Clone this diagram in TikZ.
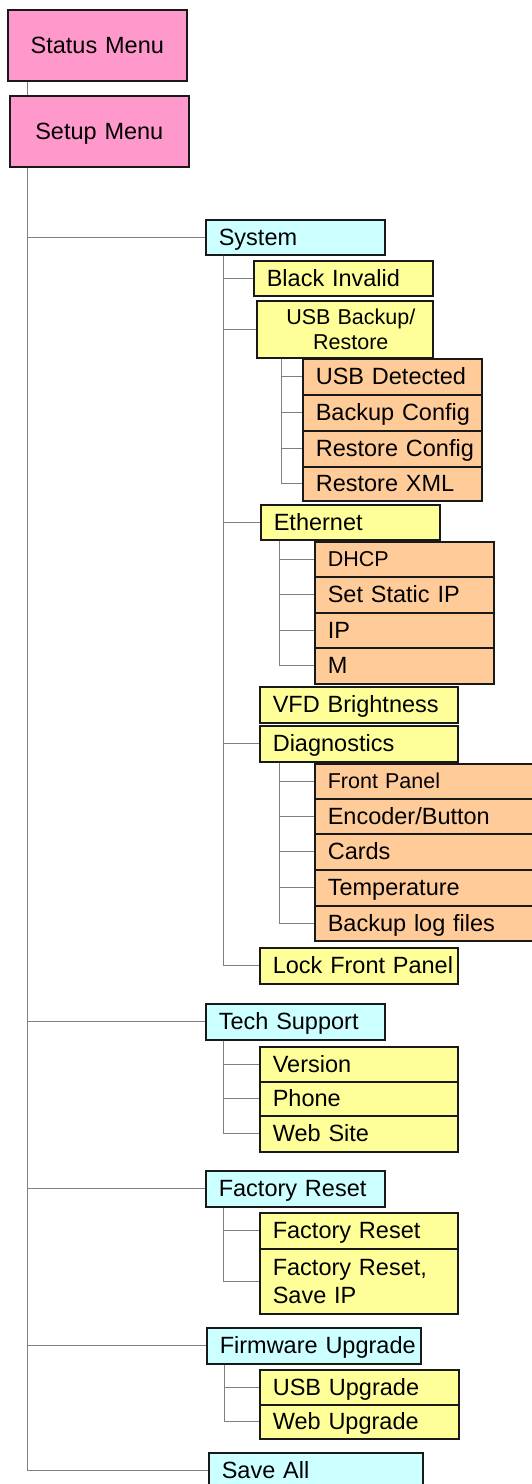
\documentclass[tikz,border=0pt]{standalone}
\usepackage{fontspec}
\setmainfont{Liberation Sans}
\definecolor{menupink}{RGB}{255,153,204}
\definecolor{groupcyan}{RGB}{204,255,255}
\definecolor{itemyellow}{RGB}{255,255,153}
\definecolor{leaforange}{RGB}{255,204,153}

\begin{document}
\begin{tikzpicture}[x=1pt,y=-1pt,
    box/.style={draw=black!90, line width=1.6pt, anchor=north west,
      inner xsep=4pt, inner ysep=0pt, align=left,
      text height=16pt, text depth=0pt,
      font=\fontsize{23.5}{28}\selectfont},
    padleft/.style={execute at begin node={\leftskip=#1\relax}},
    padcenter/.style={execute at begin node={\leftskip=#1 plus 1fil\rightskip=0pt plus 1fil\parfillskip=0pt\relax}},
    menubox/.style={box, fill=menupink, padcenter=0pt},
    groupbox/.style={box, fill=groupcyan, padleft=9pt},
    itembox/.style={box, fill=itemyellow, padleft=9pt},
    leafbox/.style={box, fill=leaforange, padleft=9pt},
    smalltext/.style={font=\fontsize{21.5}{25}\selectfont, text height=15pt},
    link/.style={draw=black!50, line width=1pt}]
  % page = 532 x 1484 px, 1px = 1pt, y grows downwards
  \useasboundingbox (0,0) rectangle (532,1484);

  % top level menus
  \node[menubox, text width=171pt, minimum height=71pt] (status) at (7,9) {Status Menu};
  \node[menubox, text width=171pt, minimum height=71pt] (setup) at (9,95) {Setup Menu};

  % System
  \node[groupbox, text width=171pt, minimum height=35pt] (sys) at (205,219) {System};
  \node[itembox, text width=171pt, minimum height=35pt] (blk) at (253,260) {Black Invalid};
  \node[itembox, smalltext, padcenter=12pt, text width=168pt,
    text depth=25pt, minimum height=57pt] (usb) at (256,300) {USB Backup/\\Restore};
  \node[leafbox, text width=171pt, minimum height=36pt] (usbdet) at (302,358) {USB Detected};
  \node[leafbox, text width=171pt, minimum height=36pt] (bkcfg) at (302,394) {Backup Config};
  \node[leafbox, text width=171pt, minimum height=36pt] (rscfg) at (302,430) {Restore Config};
  \node[leafbox, text width=171pt, minimum height=34pt] (rsxml) at (302,466) {Restore XML};
  \node[itembox, text width=171pt, minimum height=35pt] (eth) at (260,504) {Ethernet};
  \node[leafbox, smalltext, text width=171pt, minimum height=35pt] (dhcp) at (314,541) {DHCP};
  \node[leafbox, text width=171pt, minimum height=36pt] (sip) at (314,576) {Set Static IP};
  \node[leafbox, text width=171pt, minimum height=35pt] (ip) at (314,612) {IP};
  \node[leafbox, text width=171pt, minimum height=36pt] (m) at (314,647) {M};
  \node[itembox, text width=190pt, minimum height=36pt] (vfd) at (259,686) {VFD Brightness};
  \node[itembox, text width=190pt, minimum height=36pt] (diag) at (259,725) {Diagnostics};
  \node[leafbox, smalltext, text width=218pt, minimum height=35pt] (fp) at (314,763) {Front Panel};
  \node[leafbox, text width=218pt, minimum height=35pt] (enc) at (314,798) {Encoder/Button};
  \node[leafbox, text width=218pt, minimum height=36pt] (cards) at (314,833) {Cards};
  \node[leafbox, text width=218pt, minimum height=36pt] (temp) at (314,869) {Temperature};
  \node[leafbox, text width=218pt, minimum height=35pt] (blog) at (314,905) {Backup log files};
  \node[itembox, text width=190pt, minimum height=36pt] (lock) at (259,947) {Lock Front Panel};

  % Tech Support
  \node[groupbox, text width=171pt, minimum height=36pt] (tech) at (205,1003) {Tech Support};
  \node[itembox, text width=190pt, minimum height=35pt] (ver) at (259,1046) {Version};
  \node[itembox, text width=190pt, minimum height=34pt] (phone) at (259,1081) {Phone};
  \node[itembox, text width=190pt, minimum height=36pt] (web) at (259,1115) {Web Site};

  % Factory Reset
  \node[groupbox, text width=171pt, minimum height=36pt] (fr) at (205,1170) {Factory Reset};
  \node[itembox, text width=190pt, minimum height=36pt] (frone) at (259,1212) {Factory Reset};
  \node[itembox, text width=190pt, text depth=28pt, minimum height=65pt] (frtwo) at (259,1248) {Factory Reset,\\Save IP};

  % Firmware Upgrade
  \node[groupbox, text width=206pt, minimum height=36pt] (fw) at (206,1327) {Firmware Upgrade};
  \node[itembox, text width=191pt, minimum height=35pt] (usbup) at (259,1369) {USB Upgrade};
  \node[itembox, text width=191pt, minimum height=34pt] (webup) at (259,1404) {Web Upgrade};

  % Save All (runs off the page)
  \node[groupbox, text width=206pt, minimum height=36pt] (save) at (208,1452) {Save All};

  % connectors
  \draw[link] ([xshift=20pt]status.south west) -- ([xshift=20pt]status.south west |- setup.north);
  \coordinate (trk) at ([xshift=18pt]setup.south west);
  \foreach \n in {sys,tech,fr,fw,save}
    \draw[link] (trk) |- (\n.west);
  \foreach \n in {blk,usb,eth,diag,lock}
    \draw[link] ([xshift=18pt]sys.south west) |- (\n.west);
  \foreach \n in {usbdet,bkcfg,rscfg,rsxml}
    \draw[link] ([xshift=25pt]usb.south west) |- (\n.west);
  \foreach \n in {dhcp,sip,ip,m}
    \draw[link] ([xshift=19pt]eth.south west) |- (\n.west);
  \foreach \n in {fp,enc,cards,temp,blog}
    \draw[link] ([xshift=20pt]diag.south west) |- (\n.west);
  \foreach \n in {ver,phone,web}
    \draw[link] ([xshift=18pt]tech.south west) |- (\n.west);
  \foreach \n in {frone,frtwo}
    \draw[link] ([xshift=18pt]fr.south west) |- (\n.west);
  \foreach \n in {usbup,webup}
    \draw[link] ([xshift=18pt]fw.south west) |- (\n.west);
\end{tikzpicture}
\end{document}
